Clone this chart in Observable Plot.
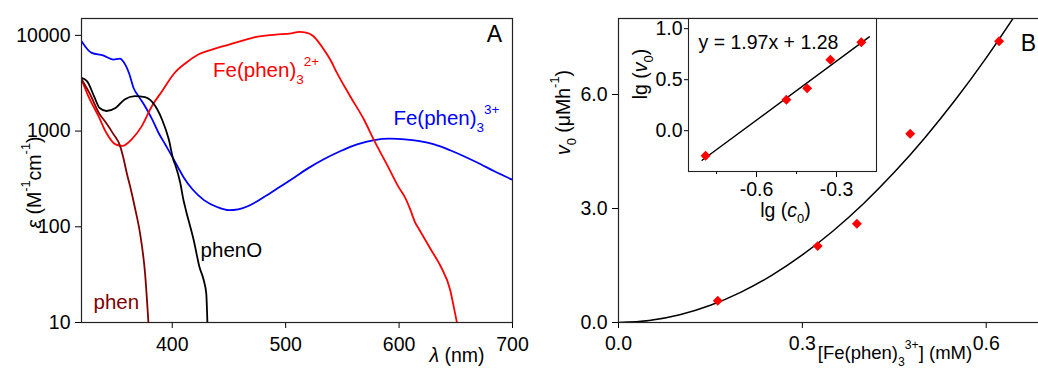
<!DOCTYPE html>
<html><head><meta charset="utf-8">
<script src="https://cdn.jsdelivr.net/npm/d3@7"></script>
<script src="https://cdn.jsdelivr.net/npm/@observablehq/plot@0.6"></script>
<style>
html,body{margin:0;padding:0;background:#fff;overflow:hidden}
#wrap{position:relative;width:1038px;height:370px;overflow:hidden;background:#fff}
#wrap svg{position:absolute;overflow:visible}
</style></head><body><div id="wrap"></div>
<script>
// ---------- Panel A: absorption spectra ----------
const fe3Lambda = [320,329,339,348,354,357,362,366,371,376,382,388,394,400,405,410,418,428,440,450,458,466,475,483,495,508,520,534,548,563,578,592,605,618,631,645,660,672,684,700];
const fe3Eps    = [8700,6550,6170,5580,5700,5300,4000,2800,2250,1820,1350,955,720,540,420,330,245,190,160,149,152,163,185,212,262,330,410,510,615,725,805,832,820,785,725,630,527,450,380,310];

const fe2Lambda = [320,326,335,342,350,356,364,373,382,391,402,412,423,435,450,462,473,491,505,512,518,524,529,533,537,540,545,557,569,578,590,600,605,610,614,617,628,637,645,648,651];
const fe2Eps    = [3480,2320,1430,955,725,700,815,1120,1820,2610,4040,5150,6300,7100,8000,8800,9600,10170,10500,10850,10700,9900,8500,7300,6200,5400,4100,2300,1320,800,430,255,205,150,112,97,58,38,22,15,10];

const phenOLambda = [320,325,331,336,342,350,358,367,376,383,391,397,401,403,407,410,412,419,424,428,430,431];
const phenOEps    = [3590,3310,2320,1740,1620,1740,2140,2320,2260,1970,1320,815,500,432,290,188,150,72,38,27,20,10];

const phenLambda = [320,327,336,341,348,354,357,360,363,367,372,376,379];
const phenEps    = [3480,2500,1500,1250,935,700,520,360,260,160,80,33,10];

const xTicksA = [400,500,600,700];
const yTicksA = [10,100,1000,10000];

const curveLabels   = ["Fe(phen)_{3}^{2+}","Fe(phen)_{3}^{3+}","phenO","phen"];
const curveLabelX   = [436,595,425,330.6];
const curveLabelY   = [4300,1350,56.6,16.2];
const curveColors   = ["#ff0000","#0000ff","#000000","#800000"];

// ---------- Panel B: initial rate vs concentration ----------
const c0 = [0.162,0.325,0.389,0.476,0.621];
const v0 = [0.57,2.01,2.60,4.97,7.40];
const fitC = [0,0.05,0.1,0.15,0.2,0.25,0.3,0.35,0.4,0.45,0.5,0.55,0.6,0.65];
const fitV = [0,0.052,0.204,0.454,0.800,1.241,1.778,2.408,3.133,3.951,4.863,5.867,6.964,8.152];
const xTicksB = [0,0.3,0.6];
const yTicksB = [0,3,6];

// ---------- Inset: log-log ----------
const lgC = [-0.791,-0.488,-0.41,-0.323,-0.207];
const lgV = [-0.245,0.304,0.415,0.696,0.866];
const lgFitX = [-0.804,-0.177];
const lgFitY = [-0.29,0.92];
const xTicksIn = [-0.6,-0.3];
const xMinorIn = [-0.75,-0.45];
const yTicksIn = [0,0.5,1.0];
const equation = "y = 1.97x + 1.28";

const FONT = "'Liberation Sans', Arial, Helvetica, sans-serif";
const FS = 19.5;
const rows = (xs, ys) => xs.map((x, i) => ({x, y: ys[i]}));

const baseStyle = {fontFamily: FONT, fontSize: FS + "px", color: "#000", background: "transparent", overflow: "visible"};

function place(svg, left, top) {
  svg.style.left = left + "px";
  svg.style.top = top + "px";
  document.getElementById("wrap").appendChild(svg);
}

function richify(root) {
  const NS = "http://www.w3.org/2000/svg";
  root.querySelectorAll("text").forEach(t => {
    if (t.querySelector("tspan")) return;
    const s = t.textContent;
    if (!/[_^*]\{/.test(s)) return;
    const fs = parseFloat(getComputedStyle(t).fontSize) || FS;
    t.textContent = "";
    t.style.whiteSpace = "pre";
    let shift = 0;
    const add = (txt, kind) => {
      if (!txt) return;
      const sp = document.createElementNS(NS, "tspan");
      let target = 0;
      if (kind === "_") { target = 0.33 * fs; sp.setAttribute("font-size", (0.66 * fs).toFixed(1)); }
      else if (kind === "^") { target = -0.55 * fs; sp.setAttribute("font-size", (0.66 * fs).toFixed(1)); }
      else if (kind === "*") sp.setAttribute("font-style", "italic");
      const dy = target - shift;
      if (Math.abs(dy) > 0.01) sp.setAttribute("dy", dy.toFixed(2));
      shift = target;
      sp.textContent = txt;
      t.appendChild(sp);
    };
    const re = /([_^*])\{([^}]*)\}/g;
    let last = 0, m;
    while ((m = re.exec(s))) { add(s.slice(last, m.index), ""); add(m[2], m[1]); last = re.lastIndex; }
    add(s.slice(last), "");
  });
}

// ----- Panel A -----
const labelRows = curveLabels.map((t, i) => ({t, x: curveLabelX[i], y: curveLabelY[i], c: curveColors[i]}));
const plotA = Plot.plot({
  width: 520, height: 370,
  marginLeft: 81, marginTop: 18, marginRight: 8, marginBottom: 48,
  style: baseStyle,
  x: {domain: [320, 700]},
  y: {type: "log", domain: [10, 15000]},
  color: {type: "identity"},
  marks: [
    Plot.axisX({ticks: xTicksA, tickSize: 6, tickPadding: 9, tickFormat: d => String(d), label: null}),
    Plot.axisY({ticks: yTicksA, tickSize: 6, tickPadding: 5, tickFormat: d => String(d), label: null}),
    Plot.line(rows(fe3Lambda, fe3Eps), {x: "x", y: "y", stroke: "#0000ff", strokeWidth: 1.8, curve: "monotone-x", clip: true}),
    Plot.line(rows(fe2Lambda, fe2Eps), {x: "x", y: "y", stroke: "#ff0000", strokeWidth: 1.8, curve: "monotone-x", clip: true}),
    Plot.line(rows(phenOLambda, phenOEps), {x: "x", y: "y", stroke: "#000000", strokeWidth: 1.8, curve: "monotone-x", clip: true}),
    Plot.line(rows(phenLambda, phenEps), {x: "x", y: "y", stroke: "#800000", strokeWidth: 1.8, curve: "monotone-x", clip: true}),
    Plot.frame({stroke: "#222", strokeWidth: 1.2}),
    Plot.text(labelRows, {x: "x", y: "y", text: "t", fill: "c", textAnchor: "start", lineAnchor: "middle", fontSize: 20.5}),
    Plot.text(["*{ε} (M^{-1}cm^{-1})"], {frameAnchor: "left", rotate: -90, dx: -47, dy: 12, textAnchor: "middle", lineAnchor: "middle", fill: "#000"}),
    Plot.text(["*{λ} (nm)"], {frameAnchor: "bottom", dx: 160, dy: 33, textAnchor: "middle", lineAnchor: "middle", fill: "#000"}),
    Plot.text(["A"], {frameAnchor: "top-right", dx: -18, dy: 16, textAnchor: "middle", lineAnchor: "middle", fontSize: 23, fill: "#000"})
  ]
});
place(plotA, 0, 0);

// ----- Panel B -----
const plotB = Plot.plot({
  width: 540, height: 370,
  marginLeft: 98, marginTop: 18, marginRight: 13, marginBottom: 48,
  style: baseStyle,
  x: {domain: [0, 0.7]},
  y: {domain: [0, 8]},
  marks: [
    Plot.axisX({ticks: xTicksB, tickSize: 6, tickPadding: 8, tickFormat: d => d.toFixed(1), label: null}),
    Plot.axisY({ticks: yTicksB, tickSize: 6, tickPadding: 5, tickFormat: d => d.toFixed(1), label: null}),
    Plot.line(rows(fitC, fitV), {x: "x", y: "y", stroke: "#000", strokeWidth: 1.5, curve: "monotone-x", clip: true}),
    Plot.dot(rows(c0, v0), {x: "x", y: "y", symbol: "diamond2", r: 4.5, fill: "#ff0000", stroke: "none"}),
    Plot.frame({stroke: "#222", strokeWidth: 1.2}),
    Plot.text(["*{v}_{0} (μMh^{-1})"], {frameAnchor: "left", rotate: -90, dx: -55, dy: -58, textAnchor: "middle", lineAnchor: "middle", fill: "#000"}),
    Plot.text(["[Fe(phen)_{3}^{3+}] (mM)"], {frameAnchor: "bottom", dx: 62, dy: 31, textAnchor: "middle", lineAnchor: "middle", fontSize: 18.5, fill: "#000"}),
    Plot.text(["B"], {frameAnchor: "top-left", dx: 410, dy: 25, textAnchor: "middle", lineAnchor: "middle", fontSize: 23, fill: "#000"})
  ]
});
place(plotB, 520, 0);

// ----- Inset -----
const plotI = Plot.plot({
  width: 266, height: 231,
  marginLeft: 68, marginTop: 18, marginRight: 10, marginBottom: 60,
  style: baseStyle,
  x: {domain: [-0.855, -0.15]},
  y: {domain: [-0.4, 1.1]},
  marks: [
    Plot.frame({fill: "#fff", stroke: "none"}),
    Plot.axisX({ticks: xTicksIn, tickSize: 6, tickPadding: 5, tickFormat: d => d.toFixed(1), label: null}),
    Plot.axisX({ticks: xMinorIn, tickSize: 3, tickFormat: () => "", label: null}),
    Plot.axisY({ticks: yTicksIn, tickSize: 4, tickPadding: 2, tickFormat: d => d.toFixed(1), label: null}),
    Plot.line(rows(lgFitX, lgFitY), {x: "x", y: "y", stroke: "#000", strokeWidth: 1.4}),
    Plot.dot(rows(lgC, lgV), {x: "x", y: "y", symbol: "diamond2", r: 4.5, fill: "#ff0000", stroke: "none"}),
    Plot.frame({stroke: "#222", strokeWidth: 1.1}),
    Plot.text([equation], {frameAnchor: "top-left", dx: 10, dy: 24, textAnchor: "start", lineAnchor: "middle", fill: "#000"}),
    Plot.text(["lg (*{v}_{0})"], {frameAnchor: "left", rotate: -90, dx: -48, dy: -21, textAnchor: "middle", lineAnchor: "middle", fill: "#000"}),
    Plot.text(["lg (*{c}_{0})"], {frameAnchor: "bottom", dx: 3, dy: 39, textAnchor: "middle", lineAnchor: "middle", fill: "#000"})
  ]
});
place(plotI, 620, 0);

richify(document.getElementById("wrap"));
</script>
</body></html>
